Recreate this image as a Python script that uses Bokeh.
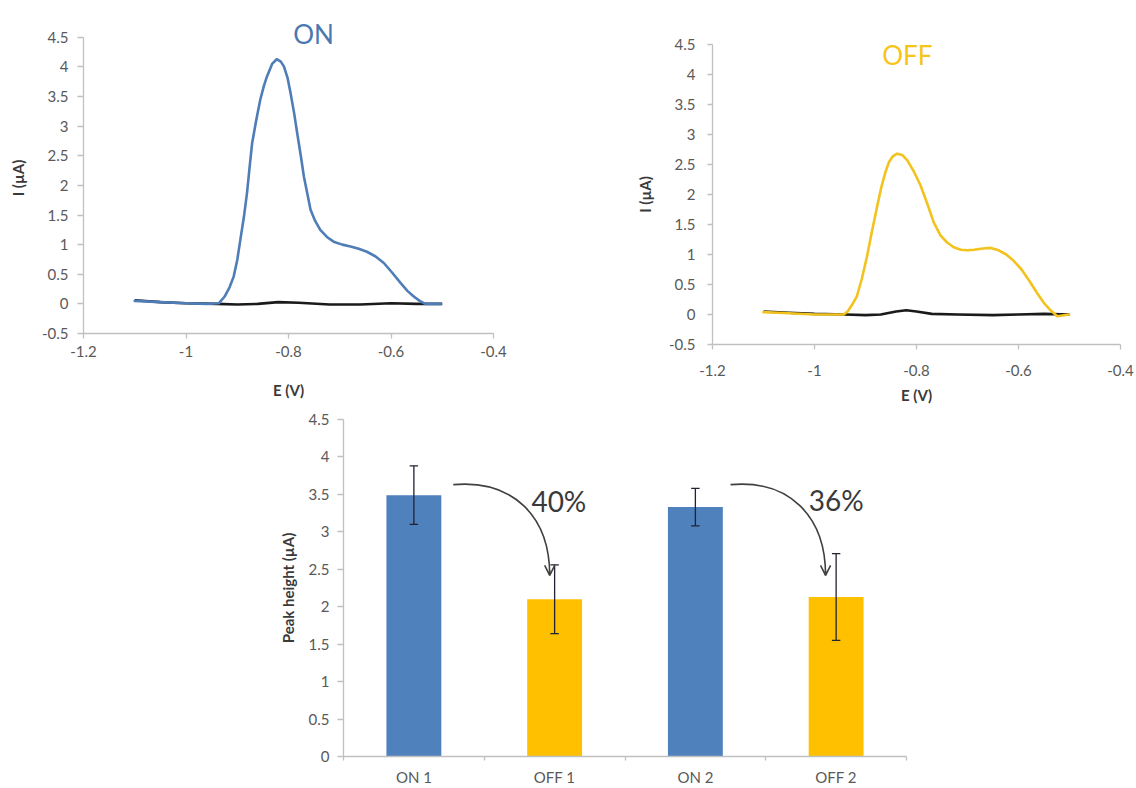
import math
from bokeh.plotting import figure
from bokeh.layouts import column, row
from bokeh.models import (Range1d, FixedTicker, CustomJSTickFormatter, Label,
                          Arrow, OpenHead, ColumnDataSource)
from bokeh.embed import file_html
from bokeh.resources import INLINE

# ---------------- data ----------------
# Voltammograms: potential E (V) vs current I (uA)
on_E = [-1.10, -1.05, -1.00, -0.96, -0.936, -0.925, -0.915, -0.907, -0.900, -0.894,
        -0.887, -0.881, -0.876, -0.871, -0.863, -0.855, -0.848, -0.842, -0.832,
        -0.823, -0.815, -0.809, -0.802, -0.796, -0.789, -0.783, -0.776, -0.770,
        -0.763, -0.757, -0.748, -0.738, -0.725, -0.712, -0.695, -0.679, -0.663,
        -0.647, -0.630, -0.614, -0.598, -0.581, -0.568, -0.555, -0.544, -0.533,
        -0.503]
on_I = [0.05, 0.03, 0.01, 0.00, 0.01, 0.12, 0.28, 0.46, 0.74, 1.08,
        1.47, 1.87, 2.30, 2.71, 3.10, 3.45, 3.68, 3.84, 4.05,
        4.13, 4.09, 4.01, 3.82, 3.56, 3.22, 2.88, 2.50, 2.15,
        1.85, 1.59, 1.40, 1.25, 1.13, 1.05, 1.00, 0.97, 0.93,
        0.88, 0.80, 0.69, 0.53, 0.35, 0.22, 0.12, 0.05, 0.00,
        0.00]
on_blank_E = [-1.10, -1.05, -1.00, -0.94, -0.90, -0.86, -0.82, -0.78, -0.72,
              -0.66, -0.60, -0.55, -0.50]
on_blank_I = [0.06, 0.03, 0.01, 0.00, -0.01, 0.00, 0.03, 0.02, -0.01,
              -0.01, 0.01, 0.00, 0.00]

off_E = [-1.10, -1.05, -1.00, -0.943, -0.935, -0.925, -0.917, -0.907, -0.897, -0.887,
         -0.877, -0.869, -0.861, -0.854, -0.846, -0.838, -0.828, -0.818, -0.805,
         -0.792, -0.779, -0.766, -0.753, -0.740, -0.727, -0.713, -0.700, -0.687,
         -0.670, -0.654, -0.639, -0.624, -0.609, -0.594, -0.578, -0.563, -0.550,
         -0.537, -0.524, -0.501]
off_I = [0.04, 0.02, 0.00, 0.00, 0.05, 0.18, 0.30, 0.60, 0.97, 1.40,
         1.81, 2.12, 2.37, 2.54, 2.64, 2.68, 2.66, 2.57, 2.38,
         2.15, 1.85, 1.53, 1.32, 1.20, 1.12, 1.08, 1.07, 1.08,
         1.10, 1.11, 1.07, 1.00, 0.89, 0.75, 0.55, 0.35, 0.19,
         0.07, -0.03, 0.00]
off_blank_E = [-1.10, -1.05, -1.00, -0.94, -0.90, -0.87, -0.84, -0.82, -0.80,
               -0.77, -0.72, -0.65, -0.60, -0.55, -0.50]
off_blank_I = [0.05, 0.03, 0.01, 0.00, -0.01, 0.00, 0.05, 0.07, 0.05,
               0.01, 0.00, -0.01, 0.00, 0.01, 0.00]

cv_x_ticks = [-1.2, -1.0, -0.8, -0.6, -0.4]
cv_y_ticks = [-0.5, 0, 0.5, 1, 1.5, 2, 2.5, 3, 3.5, 4, 4.5]

# Peak height bar chart
bar_labels = ["ON 1", "OFF 1", "ON 2", "OFF 2"]
bar_values = [3.49, 2.10, 3.33, 2.13]
bar_errors = [0.39, 0.46, 0.25, 0.58]
bar_colors = ["#4f81bd", "#ffc000", "#4f81bd", "#ffc000"]
bar_y_ticks = [0, 0.5, 1, 1.5, 2, 2.5, 3, 3.5, 4, 4.5]

# percent-decrease annotations (arrow from ON bar to OFF bar)
pct_text = ["40%", "36%"]
pct_x = [1.03, 3.00]
pct_y = [3.41, 3.42]
arrow_x0 = [0.28, 2.25]
arrow_y0 = [3.63, 3.63]
arrow_x1 = [0.965, 2.925]
arrow_y1 = [2.42, 2.42]

# ---------------- style ----------------
FONT = "Lato"
TICK_COLOR = "#595959"
AXIS_COLOR = "#c0c0c0"
LABEL_COLOR = "#3a3a3a"
BLUE_LINE = "#4f7db8"
YELLOW_LINE = "#f2c31e"

fmt = CustomJSTickFormatter(code="return String(Math.round(tick*10)/10);")


def base_axes(p, xlabel, ylabel):
    p.xgrid.visible = False
    p.ygrid.visible = False
    p.outline_line_color = None
    p.background_fill_color = "white"
    p.border_fill_color = "white"
    for ax in (p.xaxis[0], p.yaxis[0]):
        ax.axis_line_color = AXIS_COLOR
        ax.axis_line_width = 1.3
        ax.major_tick_line_color = AXIS_COLOR
        ax.major_tick_line_width = 1.3
        ax.major_tick_in = 0
        ax.minor_tick_line_color = None
        ax.major_label_text_font = FONT
        ax.major_label_text_font_size = "15px"
        ax.major_label_text_color = TICK_COLOR
        ax.axis_label_text_font = FONT
        ax.axis_label_text_font_style = "bold"
        ax.axis_label_text_font_size = "15px"
        ax.axis_label_text_color = LABEL_COLOR
    p.xaxis[0].axis_label = xlabel
    p.yaxis[0].axis_label = ylabel


def cv_plot(fw, fh, ytop, bl, br, bt, bb, E, I, bE, bI, color,
            title, tx, ty, tcolor):
    p = figure(frame_width=fw, frame_height=fh, output_backend="svg",
               toolbar_location=None,
               x_range=Range1d(-1.2, -0.4), y_range=Range1d(-0.5, ytop),
               min_border_left=bl, min_border_right=br,
               min_border_top=bt, min_border_bottom=bb)
    base_axes(p, "E (V)", "I (\u00b5A)")
    p.xaxis[0].ticker = FixedTicker(ticks=cv_x_ticks)
    p.yaxis[0].ticker = FixedTicker(ticks=cv_y_ticks)
    p.yaxis[0].bounds = (-0.5, 4.5)
    p.xaxis[0].formatter = fmt
    p.yaxis[0].formatter = fmt
    p.line(bE, bI, line_color="#1a1a1a", line_width=2.6, line_join="round")
    p.line(E, I, line_color=color, line_width=2.6, line_join="round",
           line_cap="round")
    p.add_layout(Label(x=tx, y=ty, text=title, text_color=tcolor,
                       text_font=FONT, text_font_size="26px",
                       text_align="center", text_baseline="middle"))
    return p


# ---- top-left: ON ----  (frame spans -0.5 .. 4.75 so the title fits)
p1 = cv_plot(410, 311, 4.75, 83, 15, 22, 74, on_E, on_I, on_blank_E, on_blank_I,
             BLUE_LINE, "ON", -0.751, 4.56, "#4a78b0")
p1.yaxis[0].major_tick_out = 6
p1.yaxis[0].major_label_standoff = 9
p1.yaxis[0].axis_label_standoff = 12
p1.xaxis[0].major_tick_out = 5
p1.xaxis[0].major_label_standoff = 7
p1.xaxis[0].axis_label_standoff = 21

# ---- top-right: OFF ----
p2 = cv_plot(408, 300, 4.5, 204, 16, 44, 63, off_E, off_I, off_blank_E, off_blank_I,
             YELLOW_LINE, "OFF", -0.818, 4.32, "#f5c518")
p2.yaxis[0].major_tick_out = 5
p2.yaxis[0].major_label_standoff = 12
p2.yaxis[0].axis_label_standoff = 12
p2.xaxis[0].major_tick_out = 5
p2.xaxis[0].major_label_standoff = 15
p2.xaxis[0].axis_label_standoff = 7

# ---- bottom: bar chart ----
n = len(bar_labels)
p3 = figure(frame_width=563, frame_height=337, output_backend="svg",
            toolbar_location=None,
            x_range=Range1d(-0.5, n - 0.5), y_range=Range1d(0, 4.5),
            min_border_left=343, min_border_right=230,
            min_border_top=12, min_border_bottom=27)
base_axes(p3, "", "Peak height (\u00b5A)")
xs = list(range(n))
src = ColumnDataSource(dict(
    x=xs, top=bar_values, color=bar_colors,
    lo=[v - e for v, e in zip(bar_values, bar_errors)],
    hi=[v + e for v, e in zip(bar_values, bar_errors)]))
p3.vbar(x="x", top="top", bottom=0, width=0.39, fill_color="color",
        line_color=None, source=src)
p3.segment(x0="x", y0="lo", x1="x", y1="hi", line_color="#222233",
           line_width=1.3, source=src)
cap = 0.03
p3.segment(x0=[x - cap for x in xs], y0=src.data["hi"],
           x1=[x + cap for x in xs], y1=src.data["hi"],
           line_color="#222233", line_width=1.3)
p3.segment(x0=[x - cap for x in xs], y0=src.data["lo"],
           x1=[x + cap for x in xs], y1=src.data["lo"],
           line_color="#222233", line_width=1.3)

xa = p3.xaxis[0]
xa.ticker = FixedTicker(ticks=xs, minor_ticks=[i - 0.5 for i in range(n + 1)])
xa.major_label_overrides = {i: lab for i, lab in enumerate(bar_labels)}
xa.major_tick_line_color = None
xa.major_tick_out = 0
xa.minor_tick_line_color = AXIS_COLOR
xa.minor_tick_line_width = 1.3
xa.minor_tick_out = 4
xa.minor_tick_in = 0
xa.major_label_standoff = 7
ya = p3.yaxis[0]
ya.ticker = FixedTicker(ticks=bar_y_ticks)
ya.formatter = fmt
ya.major_tick_out = 6
ya.major_label_standoff = 8
ya.axis_label_standoff = 9

for i in range(len(pct_text)):
    x0, y0, x1, y1 = arrow_x0[i], arrow_y0[i], arrow_x1[i], arrow_y1[i]
    p3.bezier(x0=[x0], y0=[y0], x1=[x1], y1=[y1],
              cx0=[x0 + 0.62 * (x1 - x0)], cy0=[y0 + 0.07],
              cx1=[x1], cy1=[y1 + 0.65 * (y0 - y1)],
              line_color="#404040", line_width=1.6)
    p3.add_layout(Arrow(end=OpenHead(size=10, line_color="#404040",
                                     line_width=1.6),
                        x_start=x1, y_start=y1 + 0.06, x_end=x1, y_end=y1,
                        line_color="#404040", line_width=1.6))
    p3.add_layout(Label(x=pct_x[i], y=pct_y[i], text=pct_text[i],
                        text_font=FONT, text_font_size="28px",
                        text_color="#3a3a3a", text_align="center",
                        text_baseline="middle"))

layout = column(row(column(p1), column(p2), spacing=0), column(p3), spacing=0)
open("out.html", "w").write(file_html(layout, INLINE))
